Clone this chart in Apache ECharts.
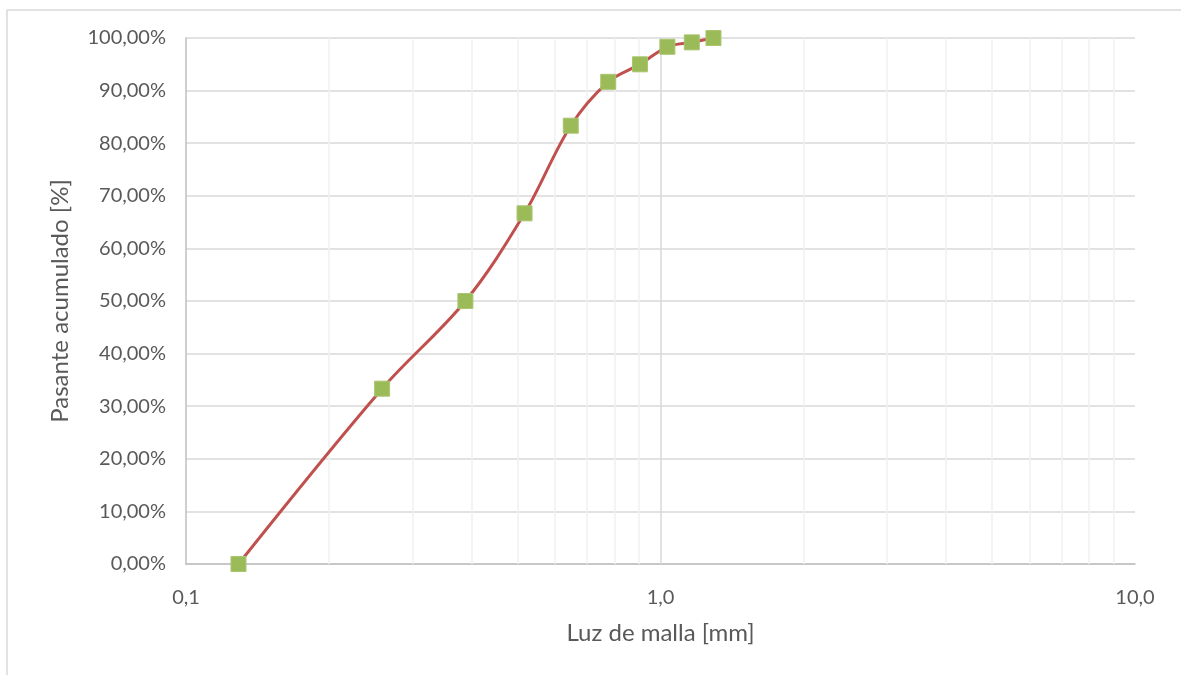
<!DOCTYPE html>
<html>
<head>
<meta charset="utf-8">
<script src="https://cdn.jsdelivr.net/npm/echarts@6/dist/echarts.min.js"></script>
<style>html,body{margin:0;padding:0;background:#fff;}#c{width:1181px;height:675px;}</style>
</head>
<body>
<div id="c"></div>
<script>
const luzMalla = [0.129, 0.259, 0.388, 0.517, 0.647, 0.776, 0.905, 1.034, 1.164, 1.293];
const pasante = [0, 33.33, 50, 66.67, 83.33, 91.67, 95, 98.33, 99.17, 100];
const minorGrid = [0.2, 0.3, 0.4, 0.5, 0.6, 0.7, 0.8, 0.9, 2, 3, 4, 5, 6, 7, 8, 9];
const majorGrid = [1];
const xTitle = 'Luz de malla [mm]';
const yTitle = 'Pasante acumulado [%]';

const FONT = 'Lato, "Open Sans", sans-serif';
const chart = echarts.init(document.getElementById('c'), null, {renderer: 'canvas'});
chart.setOption({
  backgroundColor: '#fff',
  animation: false,
  grid: {left: 186, right: 46, top: 38, bottom: 111},
  graphic: [
    {type: 'line', shape: {x1: 7, y1: 10, x2: 1181, y2: 10}, style: {stroke: '#d9d9d9', lineWidth: 1.5}},
    {type: 'line', shape: {x1: 7, y1: 10, x2: 7, y2: 675}, style: {stroke: '#d9d9d9', lineWidth: 1.5}}
  ],
  xAxis: {
    type: 'log', logBase: 10, min: 0.1, max: 10,
    name: xTitle, nameLocation: 'middle', nameGap: 57,
    nameTextStyle: {color: '#595959', fontSize: 24, fontFamily: FONT},
    axisLine: {show: true, lineStyle: {color: '#bfbfbf', width: 1.5}},
    axisTick: {show: false},
    axisLabel: {color: '#595959', fontSize: 20, fontFamily: FONT, margin: 24,
      formatter: v => Number(v).toFixed(1).replace('.', ',')},
    splitLine: {show: false}
  },
  yAxis: {
    type: 'value', min: 0, max: 100, interval: 10,
    name: yTitle, nameLocation: 'middle', nameGap: 114,
    nameTextStyle: {color: '#595959', fontSize: 24, fontFamily: FONT},
    axisLine: {show: true, lineStyle: {color: '#bfbfbf', width: 1.5}},
    axisTick: {show: false},
    axisLabel: {color: '#595959', fontSize: 20, fontFamily: FONT, margin: 20,
      formatter: v => v.toFixed(2).replace('.', ',') + '%'},
    splitLine: {show: true, lineStyle: {color: '#d9d9d9', width: 1.5}}
  },
  series: [
    {
      type: 'line', data: [], silent: true,
      markLine: {
        silent: true, symbol: 'none', label: {show: false},
        data: minorGrid.map(v => ({xAxis: v, lineStyle: {color: '#f0f0f0', width: 1.5, type: 'solid'}}))
          .concat(majorGrid.map(v => ({xAxis: v, lineStyle: {color: '#d9d9d9', width: 1.5, type: 'solid'}})))
      }
    },
    {
      type: 'line',
      data: luzMalla.map((x, i) => [x, pasante[i]]),
      smooth: 0.35,
      lineStyle: {color: '#C0504D', width: 3},
      symbol: 'rect', symbolSize: 15,
      itemStyle: {color: '#9BBB59', borderColor: '#a9c56f', borderWidth: 1},
      z: 5
    }
  ]
});
</script>
</body>
</html>
